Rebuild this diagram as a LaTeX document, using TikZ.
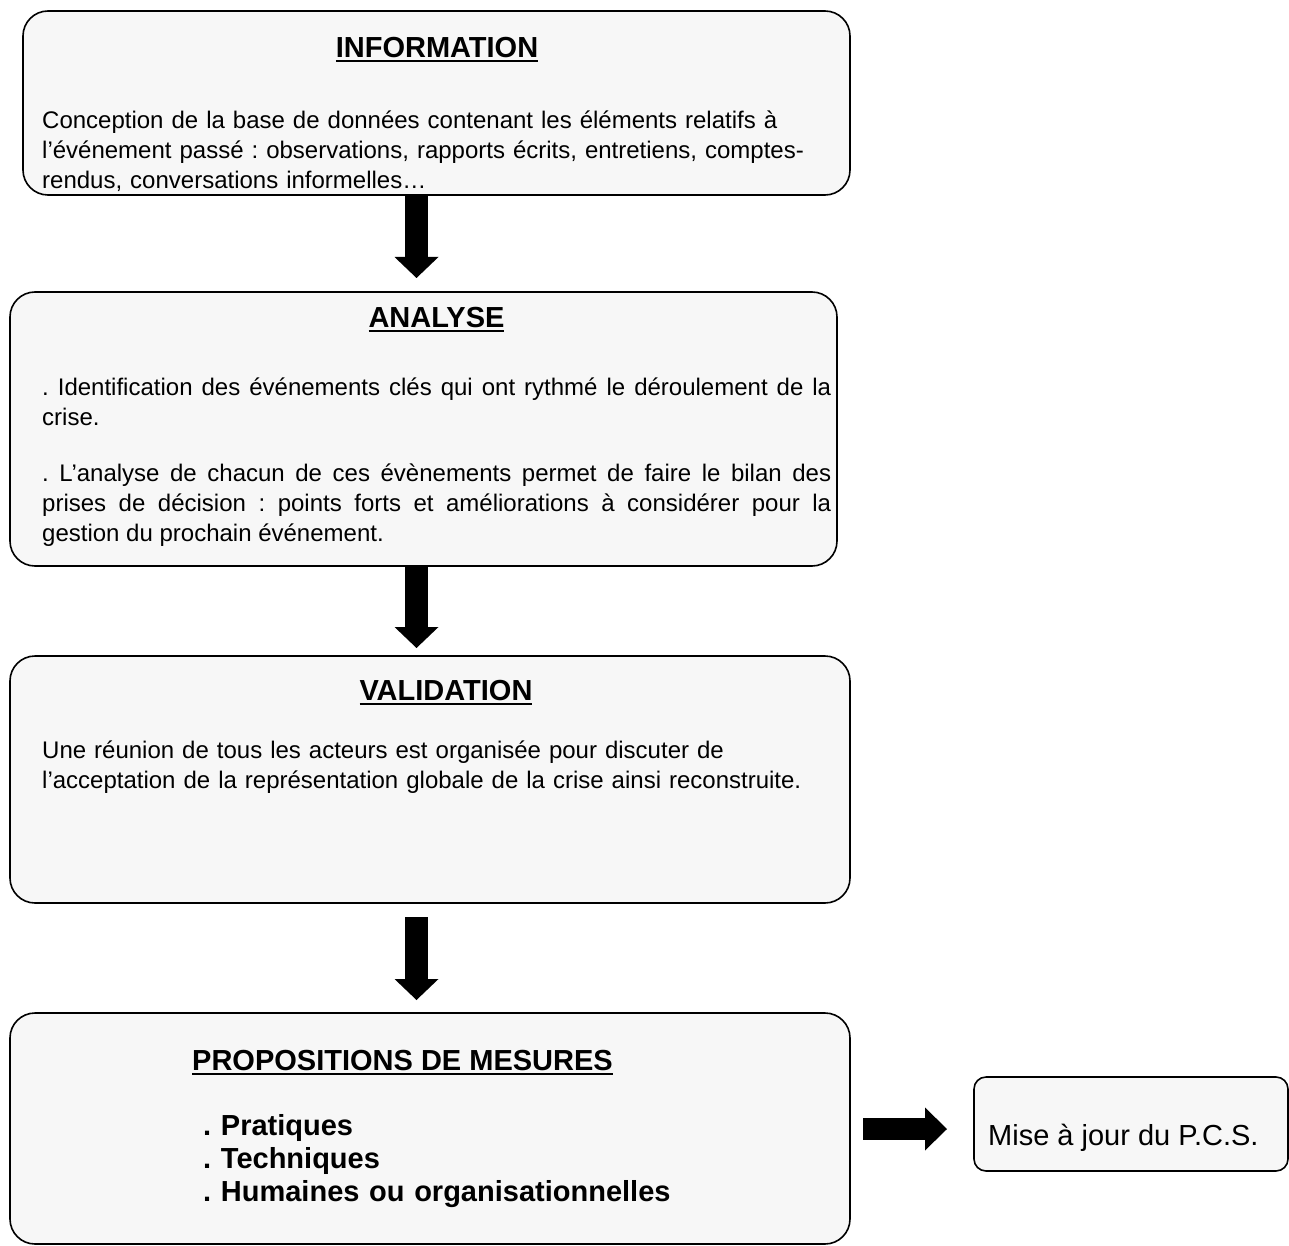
\documentclass[tikz,border=0pt]{standalone}
\usepackage{fontspec}
\setmainfont{Liberation Sans}
\usetikzlibrary{arrows.meta}
\frenchspacing
\definecolor{fond}{HTML}{F7F7F7}
\newcommand{\souligne}[1]{\setbox0\hbox{#1}\rlap{\rule[-4.5pt]{\wd0}{2pt}}\box0}
\tikzset{
  boite/.style={draw, line width=1.6pt, fill=fond, rounded corners=25pt, inner sep=0pt},
  titre/.style={anchor=base, inner sep=0pt, font=\fontsize{29}{34}\selectfont\bfseries},
  corps/.style={anchor=base west, inner sep=0pt, align=left, text width=800pt, font=\fontsize{24}{30}\selectfont},
  fleche/.style={line width=23pt, -{Triangle[width=44pt,length=21pt,line width=0pt]}}
}
\begin{document}
\begin{tikzpicture}[x=1pt,y=-1pt]
\useasboundingbox (0,0) rectangle (1289,1246);
 \node[boite, minimum width=827pt, minimum height=184pt] (info) at (436.5,103) {};
 \node[titre] (t1) at (437,58) {\souligne{INFORMATION}};
 \node[corps] (c1) at (42,129) {Conception de la base de données contenant les éléments relatifs à\\
 l’événement passé : observations, rapports écrits, entretiens, comptes-\\
 rendus, conversations informelles…};

 \node[boite, minimum width=827pt, minimum height=274pt] (ana) at (423.5,429) {};
 \node[titre] (t2) at (436.5,327) {\souligne{ANALYSE}};
 \node[corps, text width=789pt, align=justify] (c2) at (42,395) {\hyphenpenalty=10000
 . Identification des événements clés qui ont rythmé le déroulement de la\linebreak
 crise.\par\vspace{26pt}
 . L’analyse de chacun de ces évènements permet de faire le bilan des\linebreak
 prises de décision : points forts et améliorations à considérer pour la\linebreak
 gestion du prochain événement.};

 \node[boite, minimum width=840pt, minimum height=247pt] (val) at (430,779.5) {};
 \node[titre] (t3) at (446,700) {\souligne{VALIDATION}};
 \node[corps] (c3) at (42,758) {Une réunion de tous les acteurs est organisée pour discuter de\\
 l’acceptation de la représentation globale de la crise ainsi reconstruite.};

 \node[boite, minimum width=840pt, minimum height=231pt] (prop) at (430,1128.5) {};
 \node[titre, anchor=base west] (t4) at (192,1070) {\souligne{PROPOSITIONS DE MESURES}};
 \node[corps, font=\fontsize{29}{33}\selectfont\bfseries] (c4) at (203,1135) {. Pratiques\\
 . Techniques\\
 . Humaines ou organisationnelles};

 \node[boite, rounded corners=12pt, minimum width=314pt, minimum height=94pt] (pcs) at (1131,1124) {};
 \node[corps, text width=, font=\fontsize{29}{34}\selectfont] (c5) at (988,1145) {Mise à jour du P.C.S.};

 \coordinate (f1) at (416.5,278);
 \coordinate (f2) at (416.5,648);
 \coordinate (f3a) at (416.5,917);
 \coordinate (f3) at (416.5,1000);
 \coordinate (f4a) at (863,1129);
 \coordinate (f4) at (947,1129);
 \draw[fleche] (f1 |- info.south) -- (f1);
 \draw[fleche] (f2 |- ana.south) -- (f2);
 \draw[fleche] (f3a) -- (f3);
 \draw[fleche, line width=22pt, -{Triangle[width=43pt,length=22pt,line width=0pt]}] (f4a) -- (f4);
\end{tikzpicture}
\end{document}
